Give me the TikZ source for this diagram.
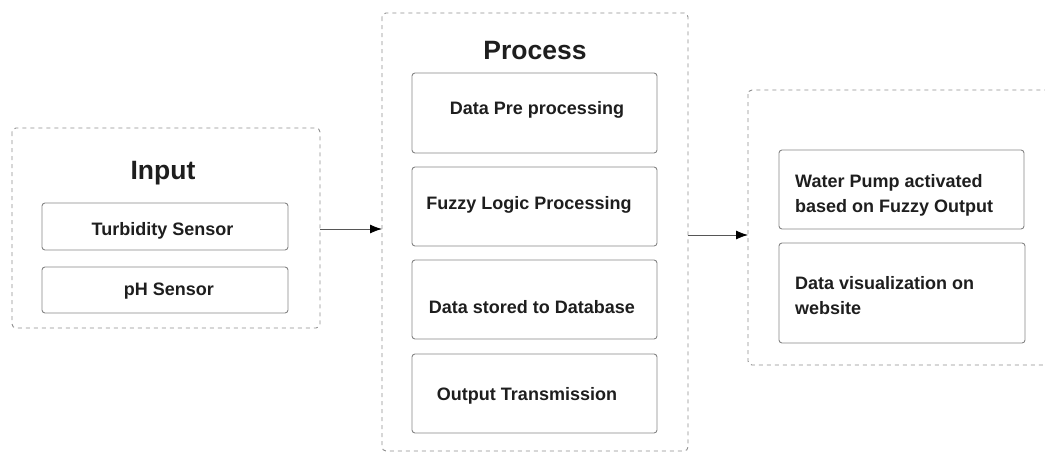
\documentclass[tikz,border=0pt]{standalone}
\usepackage{fontspec}
\setmainfont{Liberation Sans}
\usetikzlibrary{arrows.meta}
\definecolor{frame}{HTML}{8E8E8E}
\definecolor{boxline}{HTML}{858585}
\definecolor{ink}{HTML}{1E1E1E}
\tikzset{
  container/.style={draw=frame, line width=0.9pt, dash pattern=on 4pt off 4pt, rounded corners=4pt},
  stepbox/.style={draw=boxline, line width=0.9pt, rounded corners=3pt},
  title/.style={font=\bfseries\fontsize{26.5}{30}\selectfont, text=ink},
  lbl/.style={font=\bfseries\fontsize{18}{25}\selectfont, text=ink, inner sep=0pt},
  conn/.style={draw=ink!75, line width=0.8pt, -{Latex[length=12pt,width=9pt,color=black]}}
}
\begin{document}
\begin{tikzpicture}[x=1pt,y=-1pt]
\useasboundingbox (0,0) rectangle (1045,453);
% containers
\draw[container] (12,128) rectangle (320,328);
\draw[container] (382,13) rectangle (688,451);
\draw[container] (748,90) rectangle (1060,365);
\coordinate (inR) at (320,229);
\coordinate (prL) at (382,229);
\coordinate (prR) at (688,235);
\coordinate (ouL) at (748,235);
% titles
\node[title] (tin) at (163,173) {Input};
\node[title] (tpr) at (535,51) {Process};
% input boxes
\draw[stepbox] (42,203) rectangle (288,250);
\draw[stepbox] (42,267) rectangle (288,313);
\node[lbl] (t1) at (162.5,231) {Turbidity Sensor};
\node[lbl] (t2) at (169,291) {pH Sensor};
% process boxes
\draw[stepbox] (412,73) rectangle (657,153);
\draw[stepbox] (412,167) rectangle (657,246);
\draw[stepbox] (412,260) rectangle (657,339);
\draw[stepbox] (412,354) rectangle (657,433);
\node[lbl] (p1) at (537,110) {Data Pre processing};
\node[lbl] (p2) at (529,205) {Fuzzy Logic Processing};
\node[lbl] (p3) at (532,307) {Data stored to Database};
\node[lbl] (p4) at (527,396) {Output Transmission};
% output boxes
\draw[stepbox] (779,150) rectangle (1024,229);
\draw[stepbox] (779,243) rectangle (1025,343);
\node[lbl, anchor=west, align=left] (o1) at (795,195.5) {Water Pump activated\\based on Fuzzy Output};
\node[lbl, anchor=west, align=left] (o2) at (795,295.5) {Data visualization on\\website};
% connectors
\draw[conn] (inR) -- (prL);
\draw[conn] (prR) -- (ouL);
\end{tikzpicture}
\end{document}
